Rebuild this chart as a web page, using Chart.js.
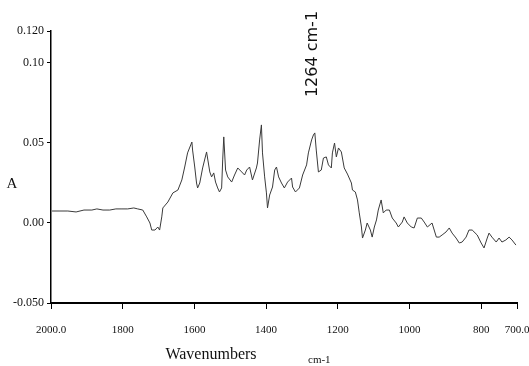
<!DOCTYPE html>
<html>
<head>
<meta charset="utf-8">
<script src="https://cdn.jsdelivr.net/npm/chart.js@4.4.1/dist/chart.umd.min.js"></script>
<style>
  html, body { margin: 0; padding: 0; background: #fff; }
  #wrap { width: 529px; height: 366px; }
</style>
</head>
<body>
<div id="wrap"><canvas id="myChart" width="529" height="366"></canvas></div>
<script>
// wavenumbers (cm-1) and absorbance
const wavenumbers = [1997,1975,1953,1930,1908,1886,1872,1855,1836,1819,
  1802,1786,1769,1758,1744,1733,1724,1719,1710,1702,
  1697,1691,1688,1674,1660,1646,1635,1627,1619,1607,
  1605,1599,1594,1591,1585,1577,1566,1557,1552,1546,
  1541,1535,1530,1524,1521,1518,1513,1507,1496,1488,
  1479,1468,1460,1454,1446,1438,1427,1424,1418,1413,
  1410,1404,1399,1396,1390,1382,1376,1371,1365,1357,
  1349,1340,1329,1326,1318,1307,1298,1287,1282,1273,
  1268,1264,1260,1254,1246,1240,1232,1226,1218,1215,
  1209,1204,1198,1190,1182,1173,1162,1159,1151,1145,
  1140,1134,1131,1123,1118,1109,1104,1098,1092,1087,
  1079,1073,1065,1056,1048,1037,1031,1020,1015,1006,
  995,987,978,967,959,950,937,925,917,909,
  898,889,881,870,861,853,842,834,825,811,
  800,792,783,778,770,758,750,742,731,722,
  714,703];

const absorbance = [0.0075,0.0075,0.0075,0.0069,0.0081,0.0081,0.0088,0.0081,0.0081,0.0088,
  0.0088,0.0088,0.0094,0.0088,0.0081,0.0038,0.0000,-0.0044,-0.0044,-0.0025,
  -0.0044,0.0038,0.0094,0.0131,0.0188,0.0206,0.0269,0.0350,0.0438,0.0506,
  0.0456,0.0350,0.0250,0.0219,0.0250,0.0344,0.0444,0.0319,0.0288,0.0313,
  0.0256,0.0219,0.0194,0.0219,0.0394,0.0538,0.0331,0.0288,0.0256,0.0300,
  0.0344,0.0319,0.0300,0.0331,0.0350,0.0269,0.0344,0.0375,0.0519,0.0613,
  0.0438,0.0288,0.0188,0.0094,0.0175,0.0225,0.0331,0.0350,0.0288,0.0250,
  0.0219,0.0256,0.0281,0.0225,0.0194,0.0219,0.0300,0.0363,0.0438,0.0519,
  0.0550,0.0563,0.0456,0.0319,0.0331,0.0406,0.0413,0.0363,0.0344,0.0438,
  0.0500,0.0413,0.0469,0.0444,0.0344,0.0306,0.0250,0.0206,0.0194,0.0144,
  0.0063,-0.0025,-0.0094,-0.0044,0.0000,-0.0044,-0.0088,-0.0025,0.0019,0.0081,
  0.0144,0.0063,0.0081,0.0081,0.0031,0.0000,-0.0025,0.0006,0.0038,0.0000,
  -0.0025,-0.0031,0.0031,0.0031,0.0006,-0.0025,0.0000,-0.0088,-0.0088,-0.0075,
  -0.0056,-0.0031,-0.0063,-0.0094,-0.0125,-0.0119,-0.0088,-0.0044,-0.0044,-0.0075,
  -0.0125,-0.0156,-0.0094,-0.0063,-0.0088,-0.0119,-0.0094,-0.0119,-0.0106,-0.0088,
  -0.0106,-0.0138];

const xTicks = [2000, 1800, 1600, 1400, 1200, 1000, 800, 700];
const xTickLabels = ['2000.0', '1800', '1600', '1400', '1200', '1000', '800', '700.0'];
const yTicks = [-0.05, 0, 0.05, 0.10, 0.12];
const yTickLabels = ['-0.050', '0.00', '0.05', '0.10', '0.120'];

const points = wavenumbers.map((w, i) => ({ x: w, y: absorbance[i] }));

const serif = "'Liberation Serif', 'Times New Roman', serif";

// extra labels: axis titles and the peak annotation
const labelsPlugin = {
  id: 'labels',
  afterDraw(chart) {
    const ctx = chart.ctx;
    ctx.save();
    ctx.fillStyle = '#111';
    ctx.textBaseline = 'middle';
    ctx.textAlign = 'center';
    ctx.font = '15px ' + serif;
    ctx.fillText('A', 12, 184);

    ctx.font = '16px ' + serif;
    ctx.textBaseline = 'alphabetic';
    ctx.fillText('Wavenumbers', 211, 359);
    ctx.font = '11px ' + serif;
    ctx.textAlign = 'left';
    ctx.fillText('cm-1', 308, 363);

    // annotation at the peak
    const px = chart.scales.x.getPixelForValue(1264);
    ctx.translate(px - 2, 54);
    ctx.rotate(-Math.PI / 2);
    ctx.textAlign = 'center';
    ctx.textBaseline = 'middle';
    ctx.font = "16px 'DejaVu Sans', sans-serif";
    ctx.fillText('1264 cm-1', 0, 0);
    ctx.restore();
  }
};

new Chart(document.getElementById('myChart'), {
  type: 'line',
  data: {
    datasets: [{
      data: points,
      borderColor: '#3a3a3a',
      borderWidth: 1,
      pointRadius: 0,
      tension: 0,
      fill: false
    }]
  },
  options: {
    responsive: false,
    animation: false,
    layout: { padding: { left: 0, right: 12, top: 31, bottom: 0 } },
    plugins: { legend: { display: false }, tooltip: { enabled: false } },
    scales: {
      x: {
        type: 'linear',
        reverse: true,
        min: 700,
        max: 2000,
        afterBuildTicks(scale) { scale.ticks = xTicks.map(v => ({ value: v })); },
        afterFit(scale) { scale.height = 63; scale.paddingLeft = 0; scale.paddingRight = 0; },
        ticks: {
          autoSkip: false,
          maxRotation: 0,
          padding: 15,
          color: '#111',
          font: { family: serif, size: 11 },
          callback(v) { return xTickLabels[xTicks.indexOf(v)]; }
        },
        grid: { display: true, drawOnChartArea: false, color: '#000', tickLength: 6, lineWidth: 1 },
        border: { display: true, color: '#000', width: 2 }
      },
      y: {
        type: 'linear',
        min: -0.05,
        max: 0.12,
        afterBuildTicks(scale) { scale.ticks = yTicks.map(v => ({ value: v })); },
        afterFit(scale) { scale.width = 51; scale.paddingTop = 0; scale.paddingBottom = 0; },
        ticks: {
          padding: 3,
          color: '#111',
          font: { family: serif, size: 12 },
          callback(v) {
            const i = yTicks.findIndex(t => Math.abs(t - v) < 1e-9);
            return i >= 0 ? yTickLabels[i] : '';
          }
        },
        grid: { display: true, drawOnChartArea: false, color: '#000', tickLength: 4, lineWidth: 1 },
        border: { display: true, color: '#000', width: 1.5 }
      }
    }
  },
  plugins: [labelsPlugin]
});
</script>
</body>
</html>
